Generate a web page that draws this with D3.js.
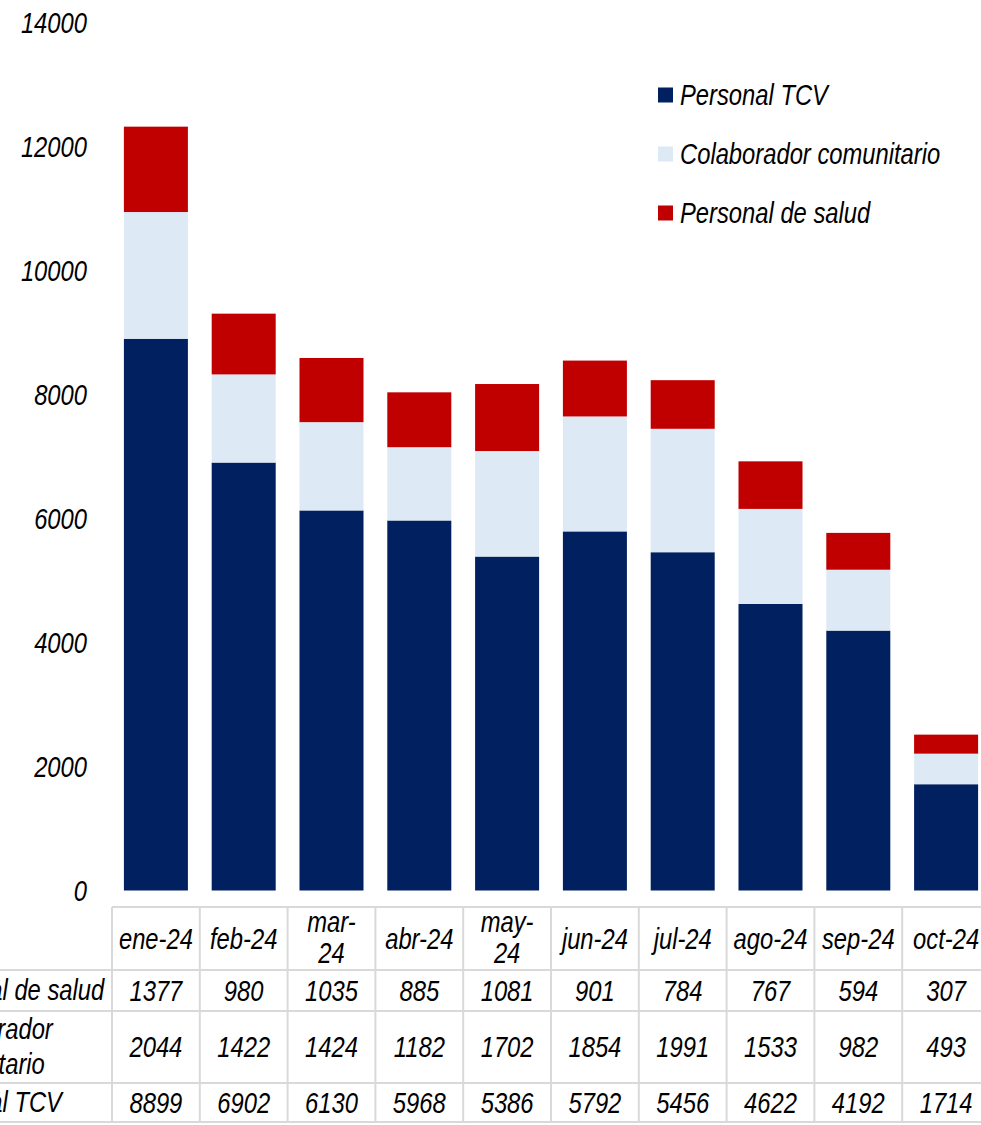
<!DOCTYPE html>
<html><head><meta charset="utf-8">
<script src="https://cdn.jsdelivr.net/npm/d3@7"></script>
<style>
html,body{margin:0;padding:0;background:#fff;}
svg text{font-family:"Liberation Sans",Arial,sans-serif;font-style:italic;fill:#000;}
</style></head>
<body>
<svg id="chart" width="981" height="1125"></svg>
<script>
const months = ["ene-24","feb-24","mar-24","abr-24","may-24","jun-24","jul-24","ago-24","sep-24","oct-24"];
const monthLines = [["ene-24"],["feb-24"],["mar-","24"],["abr-24"],["may-","24"],["jun-24"],["jul-24"],["ago-24"],["sep-24"],["oct-24"]];
const personalTCV = [8899,6902,6130,5968,5386,5792,5456,4622,4192,1714];
const colaborador = [2044,1422,1424,1182,1702,1854,1991,1533,982,493];
const personalSalud = [1377,980,1035,885,1081,901,784,767,594,307];
const seriesNames = ["Personal TCV","Colaborador comunitario","Personal de salud"];
const seriesColors = ["#002060","#DDEAF6","#C00000"];
const yTicks = [0,2000,4000,6000,8000,10000,12000,14000];
// table rows (top to bottom)
const tableRows = [
  {lines:["Personal de salud"], values: personalSalud, indent: 0},
  {lines:["Colaborador","comunitario"], values: colaborador, indent: 8},
  {lines:["Personal TCV"], values: personalTCV, indent: 0}
];

const svg = d3.select("#chart");
const FS = 29, SX = 0.82;
function txt(g, x, y, s, anchor){
  return g.append("text")
    .attr("transform", `translate(${x},${y}) scale(${SX},1)`)
    .attr("text-anchor", anchor || "middle")
    .attr("font-size", FS)
    .attr("dy","0.36em")
    .text(s);
}

const data = months.map((m,i)=>({m, a:personalTCV[i], b:colaborador[i], c:personalSalud[i]}));
const stack = d3.stack().keys(["a","b","c"]);
const layers = stack(data);

const x = d3.scaleBand().domain(months).range([112, 990]).paddingInner(0.271).paddingOuter(0.1355);
const y = d3.scaleLinear().domain([0,14000]).range([890.5, 22.5]);

// y axis labels
const gy = svg.append("g");
yTicks.forEach(t => txt(gy, 87, y(t), String(t), "end"));

// bars
const gb = svg.append("g");
layers.forEach((layer, li) => {
  gb.selectAll(null).data(layer).enter().append("rect")
    .attr("x", d => x(d.data.m))
    .attr("width", x.bandwidth())
    .attr("y", d => y(d[1]))
    .attr("height", d => y(d[0]) - y(d[1]))
    .attr("fill", seriesColors[li]);
});

// legend
const gl = svg.append("g");
const legendY = [95, 154, 213];
[0,1,2].forEach((si, k) => {
  gl.append("rect").attr("x",658).attr("y",legendY[k]-7.5).attr("width",15).attr("height",15).attr("fill",seriesColors[si]);
  txt(gl, 680, legendY[k], seriesNames[si], "start");
});

// data table
const gt = svg.append("g");
const step = x.step();
const colX = i => 112 + i*step;
const rowEdges = [907, 970, 1011, 1083, 1122];
const gridColor = "#D9D9D9";
gt.append("line").attr("x1",112).attr("x2",990).attr("y1",rowEdges[0]).attr("y2",rowEdges[0]).attr("stroke",gridColor).attr("stroke-width",2);
rowEdges.slice(1).forEach(ry => {
  gt.append("line").attr("x1",-100).attr("x2",990).attr("y1",ry).attr("y2",ry).attr("stroke",gridColor).attr("stroke-width",2);
});
d3.range(months.length+1).forEach(i => {
  gt.append("line").attr("x1",colX(i)).attr("x2",colX(i)).attr("y1",rowEdges[0]).attr("y2",rowEdges[4]).attr("stroke",gridColor).attr("stroke-width",2);
});
// header
monthLines.forEach((lines,i) => {
  const cx = colX(i) + step/2;
  const cy = lines.length > 1 ? 937 : 939;
  const lh = 31;
  lines.forEach((s,k) => txt(gt, cx, cy + (k - (lines.length-1)/2)*lh, s, "middle"));
});
// body rows
tableRows.forEach((row, r) => {
  const cy = (rowEdges[r+1]+rowEdges[r+2])/2;
  const lh = 35;
  row.lines.forEach((s,k) => txt(gt, -86 + row.indent, cy - 1 + (k - (row.lines.length-1)/2)*lh, s, "start"));
  row.values.forEach((v,i) => txt(gt, colX(i)+step/2, cy, String(v), "middle"));
});
</script>
</body></html>
